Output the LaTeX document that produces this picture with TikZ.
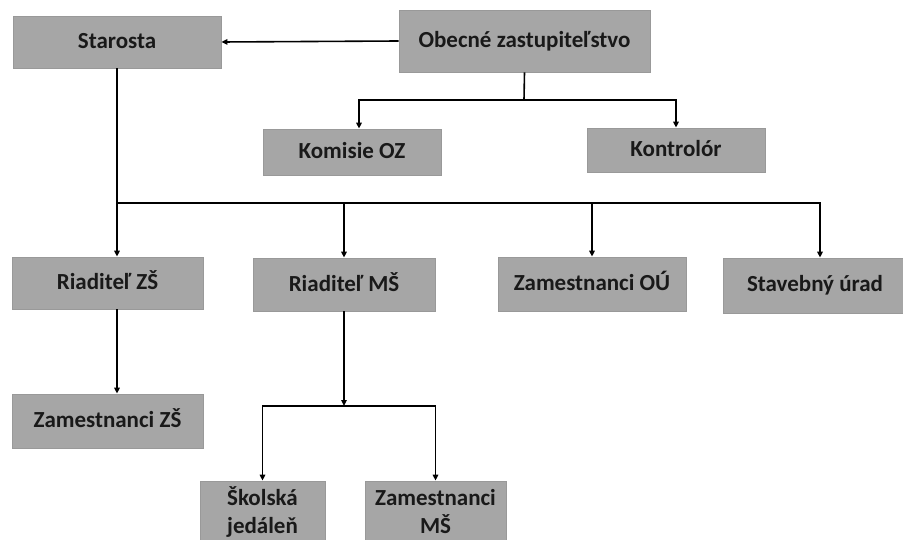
\documentclass[tikz,border=0pt]{standalone}
\usepackage{fontspec}
\setmainfont{Carlito}
\usetikzlibrary{arrows.meta}

\begin{document}
\begin{tikzpicture}[x=1pt, y=-1pt,
    box/.style = {draw=black!40, fill=gray!70, text=black!90, font=\bfseries\fontsize{23}{28}\selectfont,
                  inner sep=0pt, line width=0.8pt, text height=13pt, text depth=0pt},
    box2/.style = {box, align=center, text height=, text depth=},
    arr/.style = {line width=1.6pt, -{Triangle[length=6pt,width=5.5pt]}}]
    \useasboundingbox (0,0) rectangle (903,540);

    % Top row
    \node[box, minimum width=208, minimum height=52] (star) at (117,42) {Starosta};
    \node[box, minimum width=251, minimum height=62] (oz) at (524.5,41) {Obecné zastupiteľstvo};
    \node[box, minimum width=178, minimum height=46] (kom) at (352,152) {Komisie OZ};
    \node[box, minimum width=178, minimum height=44] (kon) at (676,150) {Kontrolór};

    % Second level
    \node[box, minimum width=191, minimum height=52] (rzs) at (107.5,283) {Riaditeľ ZŠ};
    \node[box, minimum width=182, minimum height=53] (rms) at (344,284.5) {Riaditeľ MŠ};
    \node[box, minimum width=188, minimum height=54] (zou) at (592,284) {Zamestnanci OÚ};
    \node[box, minimum width=184, minimum height=55] (stav) at (815,285.5) {Stavebný úrad};

    % Bottom
    \node[box, minimum width=191, minimum height=54] (zzs) at (107.5,421) {Zamestnanci ZŠ};
    \node[box2, minimum width=125, minimum height=62] (sj) at (262.5,512) {Školská\\jedáleň};
    \node[box2, minimum width=141, minimum height=62] (zms) at (435.5,512) {Zamestnanci\\MŠ};

    % Connectors
    \coordinate (ozfork) at (524,100);
    \coordinate (bus) at (117,203);
    \coordinate (msfork) at (344,406);

    \draw[arr] (oz.west) -- (star.east);
    \draw[line width=1.6pt] (oz.south) -- (ozfork);
    \draw[arr] (ozfork) -| ([xshift=7pt]kom.north);
    \draw[arr] (ozfork) -| (kon.north);

    \draw[arr] (star.south) -- (star.south |- rzs.north);
    \draw[arr] (bus) -| (rms.north);
    \draw[arr] (bus) -| (zou.north);
    \draw[arr] (bus) -| ([xshift=5pt]stav.north);
    \draw[arr] (star.south |- rzs.south) -- (star.south |- zzs.north);

    \draw[arr] (rms.south) -- (msfork);
    \draw[arr] (msfork) -| (sj.north);
    \draw[arr] (msfork) -| (zms.north);
\end{tikzpicture}
\end{document}
